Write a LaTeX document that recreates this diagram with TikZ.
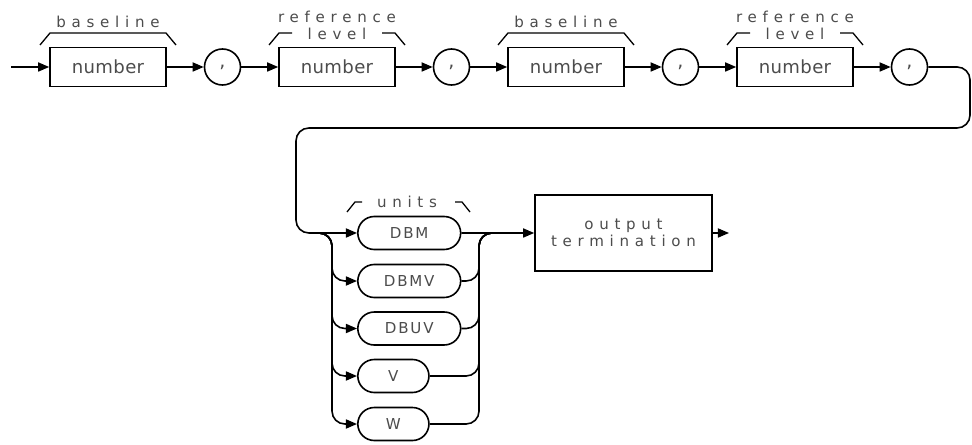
\documentclass[tikz,border=0pt]{standalone}
\usepackage{fontspec}
\setmainfont{DejaVu Sans}
\newfontfamily\wordfont{DejaVu Sans}[LetterSpace=2]
\newfontfamily\capsfont{DejaVu Sans}[LetterSpace=12]
\newfontfamily\labelfont{DejaVu Sans}[LetterSpace=38]
\usetikzlibrary{arrows.meta,shapes.misc}

\begin{document}
\begin{tikzpicture}[x=0.35cm,y=0.35cm,line width=1.6pt,
  >={Triangle[length=11pt,width=9pt]},
  numbox/.style={draw,minimum width=4.06cm,minimum height=1.365cm,inner sep=0pt,
    text=black!70,font=\wordfont\fontsize{18}{19}\selectfont},
  comma/.style={draw,circle,minimum size=1.26cm,inner sep=0pt,
    text=black!70,font=\fontsize{19}{20}\selectfont},
  pill/.style={draw,rounded rectangle,minimum height=1.155cm,inner sep=0pt,anchor=west,
    text=black!70,font=\capsfont\fontsize{15}{16}\selectfont},
  lbl/.style={inner sep=0pt,text=black!70,font=\labelfont\fontsize{15}{17}\selectfont},
  brace/.style={line width=1.3pt}]
  \useasboundingbox (0,0) rectangle (97.2,-44.5);

  % top row: number , number , number , number ,
  \coordinate (start) at (1.1,-6.7);
  \foreach \i/\x in {1/10.8, 2/33.7, 3/56.6, 4/79.5} {
    \node[numbox] (num\i) at (\x,-6.7) {number};
    \node[comma] (c\i) at (\x+11.45,-6.7) {,};
  }
  \draw[->] (start) -- (num1);
  \foreach \i/\j in {1/2, 2/3, 3/4} {
    \draw[->] (num\i) -- (c\i);
    \draw[->] (c\i) -- (num\j);
  }
  \draw[->] (num4) -- (c4);

  % labels over the boxes
  \foreach \x in {10.8, 56.6} {
    \node[lbl] at (\x,-2.2) {baseline};
    \draw[brace] (\x-6.8,-4.5) -- (\x-5.8,-3.3) -- (\x+5.8,-3.3) -- (\x+6.8,-4.5);
  }
  \foreach \x in {33.7, 79.5} {
    \node[lbl] at (\x,-1.7) {reference};
    \node[lbl] at (\x,-3.4) {level};
    \draw[brace] (\x-6.8,-4.5) -- (\x-5.8,-3.3) -- (\x-4.5,-3.3);
    \draw[brace] (\x+4.5,-3.3) -- (\x+5.8,-3.3) -- (\x+6.8,-4.5);
  }

  % units
  \foreach \i/\y/\w/\unit in {1/23.3/3.6/DBM, 2/28.1/3.6/DBMV, 3/32.85/3.6/DBUV, 4/37.6/2.49/V, 5/42.4/2.49/W}
    \node[pill,minimum width=\w cm] (u\i) at (35.7,-\y) {\unit};
  \node[lbl] (units) at (40.7,-20.2) {units};
  \draw[brace] (34.7,-21.2) -- (35.5,-20.2) -- (36.2,-20.2);
  \draw[brace] (45.5,-20.2) -- (46.2,-20.2) -- (47.0,-21.2);

  \node[draw,minimum width=6.195cm,minimum height=2.66cm,inner sep=0pt,align=center,lbl]
    (out) at (62.35,-23.3) {output\\termination};
  \coordinate (end) at (72.9,-23.3);

  % return line and branches
  \draw[->,rounded corners=0.45cm] (c4) -- (97,-6.7) -- (97,-12.8) -- (29.6,-12.8)
    -- (29.6,-23.3) -- (u1);
  \foreach \i in {2,...,5} {
    \draw[->,rounded corners=0.45cm] (31,-23.3) -| ([xshift=-0.875cm]u\i.west) -- (u\i.west);
    \draw[rounded corners=0.45cm] (u\i.east) -| (47.9,-23.3) -- (49.6,-23.3);
  }
  \draw[->] (u1) -- (out);
  \draw[->] (out) -- (end);
\end{tikzpicture}
\end{document}
